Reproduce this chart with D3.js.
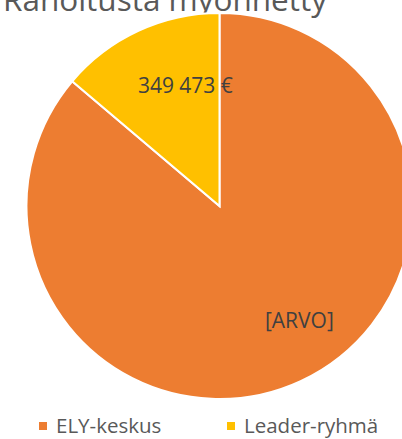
<!DOCTYPE html>
<html>
<head>
<meta charset="utf-8">
<script src="https://cdn.jsdelivr.net/npm/d3@7"></script>
<style>
  body { margin: 0; background: #fff; }
</style>
</head>
<body>
<div id="chart"></div>
<script>
// data
const categories = ["ELY-keskus", "Leader-ryhmä"];
const values = [2180000, 349473];
const labels = ["[ARVO]", "349 473 €"];
const colors = ["#ED7D31", "#FFC000"];

const width = 402, height = 439;
const cx = 219.5, cy = 206, radius = 193;

const svg = d3.select("#chart").append("svg")
    .attr("width", width)
    .attr("height", height);

// title (cut at the top, as in the original)
svg.append("text")
    .attr("x", 165)
    .attr("y", 11)
    .attr("text-anchor", "middle")
    .attr("font-family", "Open Sans")
    .style("font-size", "31.5px")
    .style("fill", "#595959")
    .text("Rahoitusta myönnetty");

const pie = d3.pie().sort(null).value(d => d);
const arcs = pie(values);

const arc = d3.arc().innerRadius(0).outerRadius(radius);

const g = svg.append("g")
    .attr("transform", `translate(${cx}, ${cy})`);

g.selectAll("path")
    .data(arcs)
    .enter()
    .append("path")
    .attr("d", arc)
    .style("fill", (d, i) => colors[i])
    .style("stroke", "#fff")
    .style("stroke-width", 2)
    .style("stroke-linejoin", "miter");

// data labels: radius fraction and angle shift (degrees) from slice middle
const labelR = [0.724, 0.647];
const labelShift = [-10, 9];
function labelPos(d, i) {
    const a = (d.startAngle + d.endAngle) / 2 + labelShift[i] * Math.PI / 180;
    return [Math.sin(a) * radius * labelR[i], -Math.cos(a) * radius * labelR[i]];
}
g.selectAll("text.lbl")
    .data(arcs)
    .enter()
    .append("text")
    .attr("class", "lbl")
    .attr("x", (d, i) => labelPos(d, i)[0])
    .attr("y", (d, i) => labelPos(d, i)[1])
    .attr("dy", "0.35em")
    .attr("text-anchor", "middle")
    .attr("font-family", "Open Sans")
    .style("font-size", "21px")
    .style("fill", "#404040")
    .text((d, i) => labels[i]);

// legend
const legendX = [39, 227];
const legend = svg.append("g");
categories.forEach((c, i) => {
    legend.append("rect")
        .attr("x", legendX[i])
        .attr("y", 422)
        .attr("width", 8)
        .attr("height", 8)
        .style("fill", colors[i]);
    legend.append("text")
        .attr("x", legendX[i] + 17)
        .attr("y", 432.5)
        .attr("font-family", "Open Sans")
        .style("font-size", "20.5px")
        .style("fill", "#595959")
        .text(c);
});
</script>
</body>
</html>
